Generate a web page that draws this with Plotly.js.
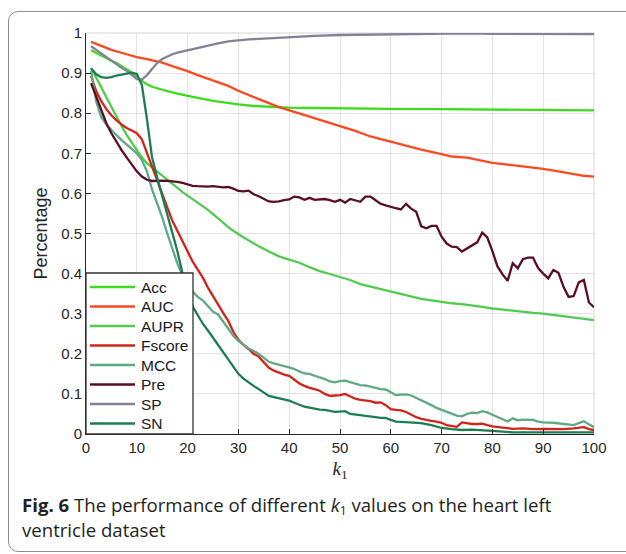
<!DOCTYPE html>
<html>
<head>
<meta charset="utf-8">
<script src="https://cdn.plot.ly/plotly-3.0.1.min.js"></script>
<style>
  html, body { margin: 0; padding: 0; background: #fff; overflow: hidden; }
  #wrap { position: relative; width: 626px; height: 554px; }
  #chart { position: absolute; left: 0; top: 0; width: 626px; height: 554px; }
  #frame { position: absolute; left: 8px; top: 11px; width: 660px; height: 541px;
           border: 1.5px solid #8c8c8c; border-radius: 10px; box-sizing: border-box; pointer-events: none; }
  #caption { position: absolute; left: 22px; top: 492px; width: 600px; font-family: "Open Sans", sans-serif;
             font-size: 18.6px; line-height: 25px; color: #231f20; }
  #caption b { font-weight: 700; }
  #caption sub { font-size: 12px; line-height: 0; vertical-align: -3px; }
</style>
</head>
<body>
<div id="wrap">
  <div id="chart"></div>
  <div id="frame"></div>
  <div id="caption"><b>Fig. 6</b> The performance of different <i>k</i><sub>1</sub> values on the heart left<br>ventricle dataset</div>
</div>
<script>
// ---- data ----
const seriesNames = ["Acc", "AUC", "AUPR", "Fscore", "MCC", "Pre", "SP", "SN"];
const xTicks = [0, 10, 20, 30, 40, 50, 60, 70, 80, 90, 100];
const yTicks = [0, 0.1, 0.2, 0.3, 0.4, 0.5, 0.6, 0.7, 0.8, 0.9, 1];
const yTickLabels = ["0", "0.1", "0.2", "0.3", "0.4", "0.5", "0.6", "0.7", "0.8", "0.9", "1"];

const accK = [1,2,3,4,5,6,7,8,9,10,11,12,13,14,16,18,20,22,25,28,30,33,36,40,45,50,60,70,80,90,100];
const accV = [0.957,0.950,0.944,0.938,0.931,0.925,0.918,0.911,0.902,0.890,0.880,0.872,0.866,0.862,0.855,0.849,0.843,0.838,0.831,0.825,0.822,0.818,0.816,0.814,0.813,0.812,0.811,0.810,0.809,0.808,0.807];

const aucK = [1,3,5,8,10,12,15,18,20,22,25,28,30,32,35,38,40,43,46,50,53,56,60,63,66,70,72,75,78,80,83,86,90,93,96,98,100];
const aucV = [0.978,0.968,0.958,0.947,0.940,0.935,0.926,0.913,0.905,0.895,0.882,0.868,0.856,0.845,0.830,0.815,0.807,0.796,0.784,0.768,0.756,0.742,0.729,0.719,0.709,0.698,0.692,0.689,0.682,0.676,0.672,0.668,0.661,0.655,0.649,0.644,0.642];

const auprK = [1,2,3,4,5,6,7,8,9,10,11,12,13,14,15,16,17,18,19,20,22,24,26,28,30,32,34,36,38,40,42,44,46,48,50,52,54,56,58,60,62,64,66,68,70,72,74,76,78,80,82,84,86,88,90,92,94,96,98,100];
const auprV = [0.912,0.89,0.865,0.84,0.815,0.79,0.768,0.746,0.726,0.708,0.69,0.675,0.665,0.655,0.645,0.636,0.625,0.614,0.603,0.594,0.576,0.559,0.538,0.516,0.498,0.482,0.468,0.455,0.443,0.435,0.427,0.416,0.406,0.399,0.392,0.384,0.374,0.368,0.362,0.355,0.349,0.343,0.337,0.333,0.329,0.326,0.324,0.321,0.317,0.313,0.310,0.308,0.305,0.302,0.300,0.297,0.294,0.291,0.287,0.284];

const fscoreK = [1,2,3,4,5,6,7,8,9,10,11,12,13,14,15,16,17,18,19,20,21,22,23,24,25,26,27,28,29,30,31,32,33,34,35,36,37,38,39,40,41,42,43,44,45,46,47,48,49,50,51,52,53,54,55,56,57,58,59,60,61,62,63,64,65,66,67,68,69,70,71,72,73,74,75,76,77,78,79,80,82,84,86,88,90,92,94,96,97,98,99,100];
const fscoreV = [0.893,0.855,0.83,0.81,0.795,0.782,0.772,0.763,0.757,0.750,
  0.735,0.70,0.665,0.63,0.598,0.565,0.532,0.505,0.478,0.455,
  0.43,0.41,0.39,0.365,0.343,0.322,0.302,0.282,0.255,0.235,
  0.222,0.212,0.200,0.193,0.18,0.165,0.158,0.152,0.148,0.145,
  0.135,0.126,0.120,0.115,0.112,0.108,0.100,0.095,0.096,0.097,
  0.100,0.094,0.088,0.085,0.083,0.082,0.078,0.079,0.072,0.062,
  0.060,0.059,0.055,0.048,0.042,0.038,0.035,0.033,0.031,0.028,
  0.022,0.020,0.018,0.029,0.027,0.025,0.025,0.026,0.022,0.019,
  0.016,0.013,0.014,0.012,0.013,0.012,0.012,0.014,0.016,0.017,0.012,0.010];

const mccK = [1,2,3,4,5,6,7,8,9,10,11,12,13,14,15,16,17,18,19,20,21,22,23,24,25,26,27,28,29,30,31,32,33,34,35,36,37,38,39,40,41,42,43,44,45,46,47,48,49,50,51,52,53,54,55,56,57,58,59,60,61,62,63,64,65,66,67,68,69,70,71,72,73,74,75,76,77,78,79,80,81,82,83,84,85,86,87,88,89,90,92,94,96,97,98,99,100];
const mccV = [0.905,0.83,0.79,0.772,0.758,0.745,0.733,0.722,0.712,0.700,
  0.683,0.655,0.61,0.577,0.540,0.500,0.463,0.425,0.395,0.372,
  0.355,0.342,0.333,0.318,0.305,0.298,0.280,0.262,0.245,0.232,
  0.222,0.213,0.207,0.200,0.190,0.180,0.176,0.172,0.169,0.166,
  0.162,0.156,0.151,0.150,0.145,0.141,0.137,0.131,0.129,0.132,
  0.133,0.129,0.125,0.122,0.121,0.118,0.114,0.112,0.111,0.104,
  0.097,0.098,0.099,0.096,0.090,0.086,0.080,0.072,0.065,0.060,
  0.055,0.050,0.046,0.044,0.050,0.053,0.052,0.057,0.054,0.048,
  0.042,0.036,0.031,0.039,0.034,0.036,0.036,0.035,0.031,0.029,
  0.028,0.025,0.022,0.027,0.032,0.024,0.017];

const preK = [1,2,3,4,5,6,7,8,9,10,11,12,13,14,15,16,17,18,19,20,21,22,23,24,25,26,27,28,29,30,31,32,33,34,35,36,37,38,39,40,41,42,43,44,45,46,47,48,49,50,51,52,53,54,55,56,57,58,59,60,61,62,63,64,65,66,67,68,69,70,71,72,73,74,75,76,77,78,79,80,81,82,83,84,85,86,87,88,89,90,91,92,93,94,95,96,97,98,99,100];
const preV = [0.875,0.84,0.805,0.775,0.75,0.728,0.708,0.69,0.672,0.655,
  0.642,0.634,0.631,0.632,0.632,0.631,0.630,0.629,0.626,0.622,
  0.619,0.618,0.617,0.617,0.618,0.616,0.615,0.616,0.612,0.606,
  0.605,0.607,0.598,0.593,0.586,0.580,0.579,0.580,0.583,0.585,
  0.592,0.590,0.584,0.589,0.584,0.585,0.586,0.583,0.579,0.584,
  0.577,0.586,0.583,0.579,0.592,0.592,0.583,0.574,0.570,0.566,
  0.563,0.560,0.574,0.562,0.554,0.518,0.513,0.519,0.519,0.492,
  0.475,0.467,0.466,0.455,0.463,0.470,0.478,0.502,0.490,0.456,
  0.418,0.398,0.382,0.426,0.413,0.436,0.440,0.440,0.414,0.400,
  0.388,0.409,0.402,0.367,0.342,0.344,0.378,0.384,0.328,0.316];

const spK = [1,2,3,4,5,6,7,8,9,10,11,12,13,14,15,16,17,18,20,22,24,26,28,30,32,35,40,45,50,55,60,65,70,75,80,85,90,95,100];
const spV = [0.967,0.958,0.948,0.939,0.930,0.921,0.913,0.906,0.895,0.885,0.884,0.895,0.910,0.925,0.935,0.942,0.947,0.951,
  0.957,0.963,0.968,0.974,0.979,0.982,0.984,0.986,0.990,0.993,0.995,0.996,0.997,0.998,0.998,0.999,0.998,0.998,0.998,0.998,0.997];

const snK = [1,2,3,4,5,6,7,8,9,10,11,12,13,14,15,16,17,18,19,20,21,22,23,24,25,26,27,28,29,30,31,32,33,34,35,36,37,38,39,40,41,42,43,44,45,46,47,48,49,50,51,52,53,54,55,56,57,58,59,60,61,62,64,66,68,70,72,74,76,78,80,82,84,86,90,95,100];
const snV = [0.912,0.897,0.890,0.888,0.890,0.894,0.896,0.898,0.901,0.898,
  0.870,0.785,0.690,0.64,0.595,0.550,0.505,0.455,0.400,0.355,
  0.318,0.295,0.275,0.258,0.240,0.222,0.205,0.188,0.170,0.150,
  0.138,0.128,0.120,0.112,0.103,0.095,0.092,0.089,0.086,0.083,
  0.078,0.072,0.068,0.066,0.063,0.061,0.060,0.057,0.055,0.056,
  0.057,0.050,0.049,0.047,0.045,0.044,0.042,0.040,0.040,0.035,
  0.031,0.030,0.029,0.027,0.022,0.015,0.012,0.010,0.011,0.010,0.008,0.006,0.004,0.004,0.004,0.004,0.004];

// ---- styling ----
const colors = ["#3ddc1f", "#fa4a22", "#4fcc4f", "#d3241c", "#5faa84", "#5a0e25", "#85809a", "#1c7d52"];
const xs = [accK, aucK, auprK, fscoreK, mccK, preK, spK, snK];
const ys = [accV, aucV, auprV, fscoreV, mccV, preV, spV, snV];

const traces = seriesNames.map((name, i) => ({
  type: "scatter", mode: "lines", name: name,
  x: xs[i], y: ys[i],
  line: { color: colors[i], width: 2.3 },
  hoverinfo: "skip", showlegend: false
}));

// plot geometry (px) used to place the hand-built legend
const M = { l: 86, r: 32, t: 33, b: 120 };
const W = 626, H = 554;
const pw = W - M.l - M.r, ph = H - M.t - M.b;
const px = v => (v - M.l) / pw;          // page x -> paper x
const py = v => (H - M.b - v) / ph;      // page y -> paper y

const legendFont = { family: "Liberation Sans, Arial, sans-serif", size: 15.5, color: "#1a1a1a" };
const shapes = [
  { type: "line", xref: "paper", yref: "paper", x0: 0, x1: 1, y0: 1, y1: 1, line: { color: "#d6d6d6", width: 1 }, layer: "below" },
  { type: "line", xref: "paper", yref: "paper", x0: 1, x1: 1, y0: 0, y1: 1, line: { color: "#d6d6d6", width: 1 }, layer: "below" },
  { type: "rect", xref: "paper", yref: "paper", x0: px(86), x1: px(193), y0: py(434), y1: py(273),
    fillcolor: "#ffffff", line: { color: "#333333", width: 1.3 }, layer: "above" }
];
const annotations = [];
seriesNames.forEach((name, i) => {
  const cy = 287 + i * 19.5;
  shapes.push({ type: "line", xref: "paper", yref: "paper", x0: px(90), x1: px(135), y0: py(cy), y1: py(cy),
    line: { color: colors[i], width: 2.3 }, layer: "above" });
  annotations.push({ xref: "paper", yref: "paper", x: px(139), y: py(cy), xanchor: "left", yanchor: "middle",
    text: name, showarrow: false, font: legendFont });
});

const axisFont = { family: "Liberation Sans, Arial, sans-serif", size: 15, color: "#262626" };

const layout = {
  width: W, height: H,
  margin: M,
  paper_bgcolor: "#ffffff", plot_bgcolor: "#ffffff",
  showlegend: false,
  xaxis: {
    range: [0, 100], tickvals: xTicks, ticktext: xTicks.map(String),
    showgrid: true, gridcolor: "#e3e3e3", gridwidth: 1,
    zeroline: false, showline: true, linecolor: "#262626", linewidth: 1,
    ticks: "inside", ticklen: 5, tickcolor: "#262626",
    tickfont: axisFont,
    title: { text: "<i>k</i><sub>1</sub>", font: { family: "Liberation Serif, DejaVu Serif, serif", size: 19, color: "#262626" }, standoff: 6 }
  },
  yaxis: {
    range: [0, 1], tickvals: yTicks, ticktext: yTickLabels,
    showgrid: true, gridcolor: "#e3e3e3", gridwidth: 1,
    zeroline: false, showline: true, linecolor: "#262626", linewidth: 1,
    ticks: "inside", ticklen: 5, tickcolor: "#262626",
    tickfont: axisFont,
    title: { text: "Percentage", font: { family: "Liberation Sans, Arial, sans-serif", size: 18, color: "#262626" }, standoff: 8 }
  },
  shapes: shapes,
  annotations: annotations
};

Plotly.newPlot("chart", traces, layout, { staticPlot: true, displayModeBar: false });
</script>
</body>
</html>
